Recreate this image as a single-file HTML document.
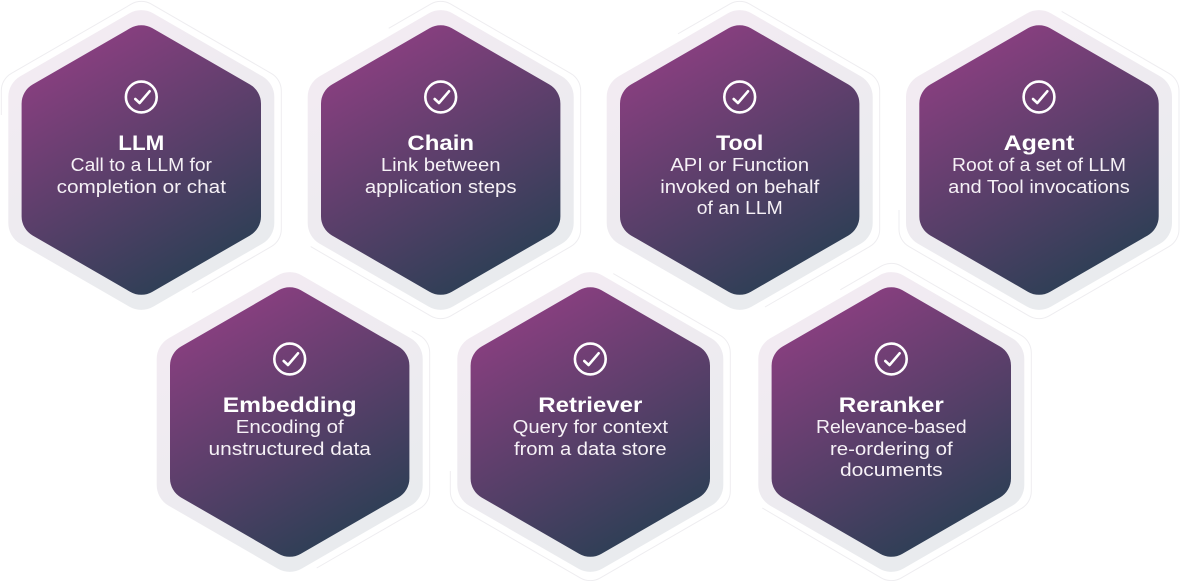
<!DOCTYPE html>
<html>
<head>
<meta charset="utf-8">
<style>
html,body{margin:0;padding:0;background:#fff;width:1180px;height:581px;overflow:hidden}
svg{display:block}
.t{font-family:"Liberation Sans",sans-serif;font-weight:700;font-size:21.5px;fill:#fff;text-anchor:middle}
.d{font-family:"Liberation Sans",sans-serif;font-size:18px;fill:#f6f1f6;text-anchor:middle}
.l{fill:none;stroke:#eeedf0;stroke-width:1}
</style>
</head>
<body>
<svg xmlns="http://www.w3.org/2000/svg" width="1180" height="581" viewBox="0 0 1180 581">
<defs>
<linearGradient id="gi" gradientUnits="userSpaceOnUse" x1="-62" y1="-108" x2="62" y2="108">
<stop offset="0" stop-color="#873f7f"/><stop offset="1" stop-color="#2f3f56"/>
</linearGradient>
<linearGradient id="gb" gradientUnits="userSpaceOnUse" x1="-62" y1="-108" x2="62" y2="108">
<stop offset="0" stop-color="#f2ebf2"/><stop offset="1" stop-color="#e9ebee"/>
</linearGradient>
<path id="band" fill="url(#gb)" d="M-12-146.67A24 24 0 0 1 12-146.67L121-83.73A24 24 0 0 1 133-62.94L133 62.94A24 24 0 0 1 121 83.73L12 146.67A24 24 0 0 1-12 146.67L-121 83.73A24 24 0 0 1-133 62.94L-133-62.94A24 24 0 0 1-121-83.73Z"/>
<path id="inner" fill="url(#gi)" d="M-11-131.85A22 22 0 0 1 11-131.85L108.7-75.45A22 22 0 0 1 119.7-56.4L119.7 56.4A22 22 0 0 1 108.7 75.45L11 131.85A22 22 0 0 1-11 131.85L-108.7 75.45A22 22 0 0 1-119.7 56.4L-119.7-56.4A22 22 0 0 1-108.7-75.45Z"/>
<g id="check" fill="none" stroke="#fff" stroke-width="2.6">
<circle cx="0" cy="-63" r="15.4"/>
<path d="M-6-61L-1.7-57L8.3-68.7" stroke-linecap="round" stroke-linejoin="round"/>
</g>
</defs>

<!-- LLM -->
<g transform="translate(141.3 160)">
<path class="l" d="M-140-45L-140-69.28A20 20 0 0 1-130-86.6L-10-155.89A20 20 0 0 1 10-155.89L130-86.6A20 20 0 0 1 140-69.28L140 69.28A20 20 0 0 1 130 86.6L50.7 132.4"/>
<use href="#band"/><use href="#inner"/><use href="#check"/>
<text class="t" x="0" y="-10" textLength="46" lengthAdjust="spacingAndGlyphs">LLM</text>
<text class="d" x="0" y="11" textLength="141.3" lengthAdjust="spacingAndGlyphs">Call to a LLM for</text>
<text class="d" x="0" y="33" textLength="169.3" lengthAdjust="spacingAndGlyphs">completion or chat</text>
</g>

<!-- Chain -->
<g transform="translate(440.7 160)">
<path class="l" d="M-52-131.7L-10-155.89A20 20 0 0 1 10-155.89L130-86.6A20 20 0 0 1 140-69.28L140 69.28A20 20 0 0 1 130 86.6L10 155.89A20 20 0 0 1-10 155.89L-130 86.6"/>
<use href="#band"/><use href="#inner"/><use href="#check"/>
<text class="t" x="0" y="-10" textLength="66.7" lengthAdjust="spacingAndGlyphs">Chain</text>
<text class="d" x="0" y="11" textLength="119.7" lengthAdjust="spacingAndGlyphs">Link between</text>
<text class="d" x="0" y="33" textLength="151.7" lengthAdjust="spacingAndGlyphs">application steps</text>
</g>

<!-- Tool -->
<g transform="translate(739.7 160)">
<path class="l" d="M-61.7-126.2L-10-155.89A20 20 0 0 1 10-155.89L130-86.6A20 20 0 0 1 140-69.28L140 69.28A20 20 0 0 1 130 86.6L25.3 147"/>
<use href="#band"/><use href="#inner"/><use href="#check"/>
<text class="t" x="0" y="-10" textLength="47.3" lengthAdjust="spacingAndGlyphs">Tool</text>
<text class="d" x="0" y="11" textLength="138.7" lengthAdjust="spacingAndGlyphs">API or Function</text>
<text class="d" x="0" y="33" textLength="159" lengthAdjust="spacingAndGlyphs">invoked on behalf</text>
<text class="d" x="0" y="54" textLength="86" lengthAdjust="spacingAndGlyphs">of an LLM</text>
</g>

<!-- Agent -->
<g transform="translate(1039 160)">
<path class="l" d="M22.7-148.6L130-86.6A20 20 0 0 1 140-69.28L140 69.28A20 20 0 0 1 130 86.6L10 155.89A20 20 0 0 1-10 155.89L-130 86.6A20 20 0 0 1-140 69.28L-140 50"/>
<use href="#band"/><use href="#inner"/><use href="#check"/>
<text class="t" x="0" y="-10" textLength="70.7" lengthAdjust="spacingAndGlyphs">Agent</text>
<text class="d" x="0" y="11" textLength="174" lengthAdjust="spacingAndGlyphs">Root of a set of LLM</text>
<text class="d" x="0" y="33" textLength="181.7" lengthAdjust="spacingAndGlyphs">and Tool invocations</text>
</g>

<!-- Embedding -->
<g transform="translate(289.7 422)">
<path class="l" d="M122-91.2L130-86.6A20 20 0 0 1 140-69.28L140 69.28A20 20 0 0 1 130 86.6L27 146"/>
<use href="#band"/><use href="#inner"/><use href="#check"/>
<text class="t" x="0" y="-10" textLength="134" lengthAdjust="spacingAndGlyphs">Embedding</text>
<text class="d" x="0" y="11" textLength="108" lengthAdjust="spacingAndGlyphs">Encoding of</text>
<text class="d" x="0" y="33" textLength="162.3" lengthAdjust="spacingAndGlyphs">unstructured data</text>
</g>

<!-- Retriever -->
<g transform="translate(590.3 422)">
<path class="l" d="M23-148.4L130-86.6A20 20 0 0 1 140-69.28L140 69.28A20 20 0 0 1 130 86.6L10 155.89A20 20 0 0 1-10 155.89L-130 86.6A20 20 0 0 1-140 69.28L-140 49"/>
<use href="#band"/><use href="#inner"/><use href="#check"/>
<text class="t" x="0" y="-10" textLength="104" lengthAdjust="spacingAndGlyphs">Retriever</text>
<text class="d" x="0" y="11" textLength="155.3" lengthAdjust="spacingAndGlyphs">Query for context</text>
<text class="d" x="0" y="33" textLength="152.7" lengthAdjust="spacingAndGlyphs">from a data store</text>
</g>

<!-- Reranker -->
<g transform="translate(891.3 422)">
<path class="l" d="M-51-132.2L-10-155.89A20 20 0 0 1 10-155.89L130-86.6A20 20 0 0 1 140-69.28L140 69.28A20 20 0 0 1 130 86.6L10 155.89A20 20 0 0 1-10 155.89L-129 86"/>
<use href="#band"/><use href="#inner"/><use href="#check"/>
<text class="t" x="0" y="-10" textLength="105" lengthAdjust="spacingAndGlyphs">Reranker</text>
<text class="d" x="0" y="11" textLength="150.7" lengthAdjust="spacingAndGlyphs">Relevance-based</text>
<text class="d" x="0" y="33" textLength="122.7" lengthAdjust="spacingAndGlyphs">re-ordering of</text>
<text class="d" x="0" y="54" textLength="102.7" lengthAdjust="spacingAndGlyphs">documents</text>
</g>
</svg>
</body>
</html>
